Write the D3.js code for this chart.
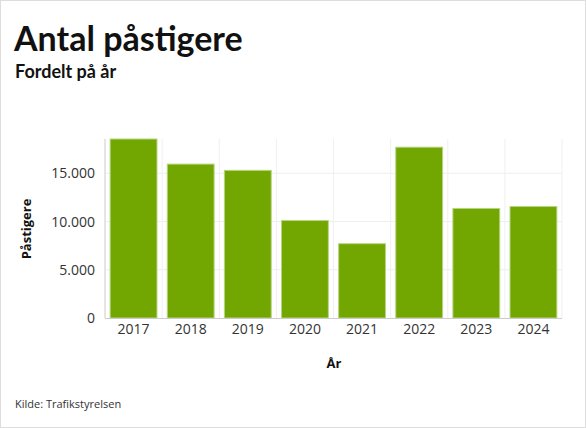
<!DOCTYPE html>
<html><head><meta charset="utf-8">
<script src="https://cdn.jsdelivr.net/npm/d3@7"></script>
<style>
body{margin:0;background:#fff;font-family:"Open Sans",sans-serif;}
</style></head>
<body>
<svg width="586" height="428"></svg>
<script>
var years = ['2017','2018','2019','2020','2021','2022','2023','2024'];
var passengers = [18550, 15950, 15300, 10100, 7700, 17700, 11350, 11550];
var yTicks = [0, 5000, 10000, 15000];

var svg = d3.select("svg");
svg.append("rect").attr("x",0.5).attr("y",0.5).attr("width",585).attr("height",427)
  .attr("fill","#fff").attr("stroke","#ddd");

svg.append("text").attr("x",14).attr("y",51).text("Antal påstigere")
  .style("font-family","Lato, sans-serif").style("font-size","34px").style("font-weight","bold").attr("fill","#111");
svg.append("text").attr("x",15).attr("y",78).text("Fordelt på år")
  .style("font-family","Lato, sans-serif").style("font-size","18px").style("font-weight","bold").attr("fill","#111");

var pLeft = 105, pRight = 562, pTop = 139, pBottom = 318;
var x = d3.scaleBand().domain(years).range([pLeft, pRight]).paddingInner(0.18).paddingOuter(0.09);
var y = d3.scaleLinear().domain([0, 18550]).range([pBottom, pTop]);

var g = svg.append("g");
g.selectAll(".hg").data(yTicks.slice(1)).enter().append("line")
  .attr("x1",pLeft).attr("x2",pRight).attr("y1",function(d){return y(d);}).attr("y2",function(d){return y(d);})
  .attr("stroke","#eee");
var step = x.step();
g.selectAll(".vg").data(years).enter().append("line")
  .attr("x1",function(d){return x(d)+x.bandwidth()+step*0.09;}).attr("x2",function(d){return x(d)+x.bandwidth()+step*0.09;})
  .attr("y1",pTop).attr("y2",pBottom).attr("stroke","#f0f0f0");

g.selectAll("rect.bar").data(years).enter().append("rect")
  .attr("x",function(d){return x(d);})
  .attr("width",x.bandwidth())
  .attr("y",function(d,i){return y(passengers[i]);})
  .attr("height",function(d,i){return pBottom - y(passengers[i]);})
  .attr("fill","#72a600").attr("stroke","#b6d57f").attr("stroke-width",1);

g.append("line").attr("x1",pLeft).attr("x2",pLeft).attr("y1",pTop).attr("y2",pBottom).attr("stroke","#ccc");
g.append("line").attr("x1",pLeft).attr("x2",pRight).attr("y1",pBottom+0.5).attr("y2",pBottom+0.5).attr("stroke","#ccc");

var fmt = function(v){ return d3.format(",")(v).replace(/,/g,"."); };
g.selectAll(".yl").data(yTicks).enter().append("text")
  .attr("x",pLeft-10).attr("y",function(d){return y(d)+5;}).attr("text-anchor","end")
  .style("font-size","14px").attr("fill","#333").text(fmt);
g.selectAll(".xl").data(years).enter().append("text")
  .attr("x",function(d){return x(d)+x.bandwidth()/2;}).attr("y",334).attr("text-anchor","middle")
  .style("font-size","14px").attr("fill","#333").text(function(d){return d;});

svg.append("text").attr("transform","translate(31,229) rotate(-90)").attr("text-anchor","middle")
  .style("font-size","13px").style("font-weight","bold").attr("fill","#111").text("Påstigere");
svg.append("text").attr("x",334).attr("y",368).attr("text-anchor","middle")
  .style("font-size","13px").style("font-weight","bold").attr("fill","#111").text("År");
svg.append("text").attr("x",15).attr("y",408)
  .style("font-size","11px").attr("fill","#333").text("Kilde: Trafikstyrelsen");
</script>
</body></html>
